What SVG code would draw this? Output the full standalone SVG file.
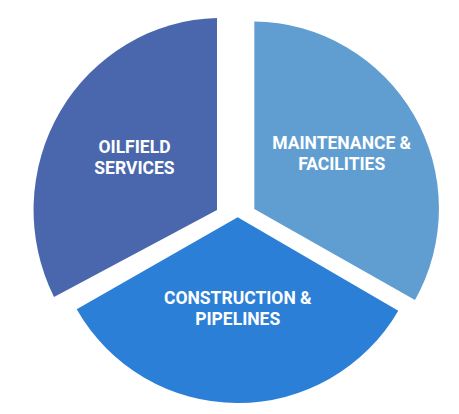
<svg xmlns="http://www.w3.org/2000/svg" width="459" height="414" viewBox="0 0 459 414">
<style>
.lbl{font-family:Roboto,"Liberation Sans",Arial,sans-serif;font-weight:700;font-size:17.5px;fill:#ffffff;text-anchor:middle}
</style>
<rect width="459" height="414" fill="#ffffff"/>
<g id="oilfield">
<path d="M217,210 L217,18 A188 192 0 0 0 54,297 Z" fill="#4a67ad"/>
<text class="lbl" x="134.5" y="152.5">OILFIELD</text>
<text class="lbl" x="134.5" y="174">SERVICES</text>
</g>
<g id="maintenance">
<path d="M254.3,209 L254.3,21.5 A187 187 0 0 1 415,300 Z" fill="#609ed1"/>
<text class="lbl" x="341.7" y="149">MAINTENANCE &amp;</text>
<text class="lbl" x="341.7" y="170">FACILITIES</text>
</g>
<g id="construction">
<path d="M237.7,217.3 L398.3,310.7 A185.5 185.5 0 0 1 76.7,309.3 Z" fill="#2b7fd6"/>
<text class="lbl" x="237.8" y="304.3">CONSTRUCTION &amp;</text>
<text class="lbl" x="237.7" y="325">PIPELINES</text>
</g>
<g id="connectors"/>
</svg>
